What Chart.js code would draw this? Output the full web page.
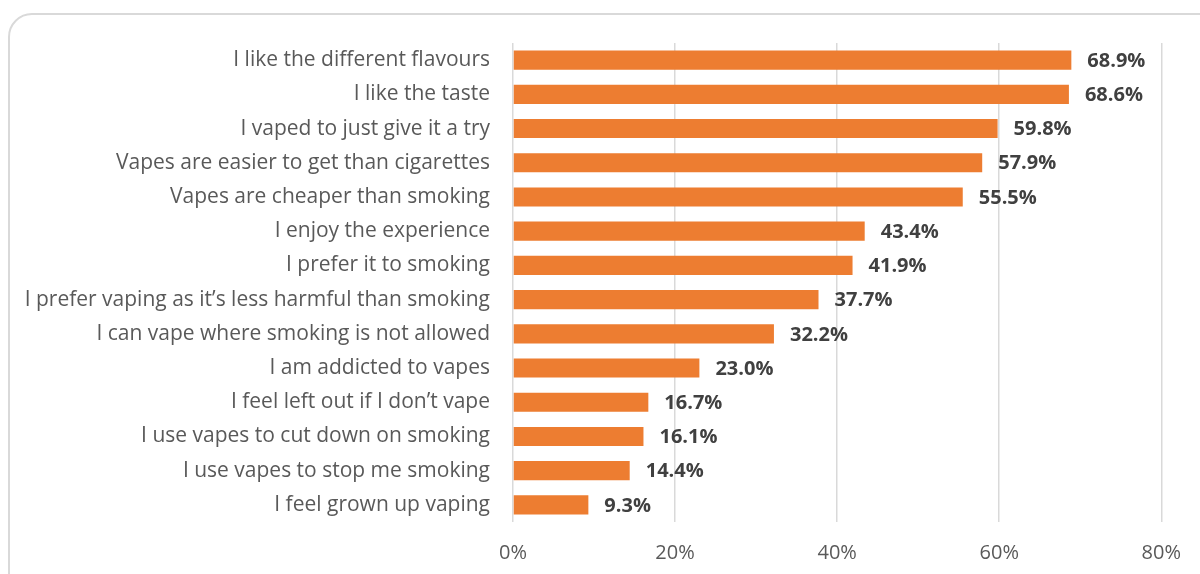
<!DOCTYPE html>
<html>
<head>
<meta charset="utf-8">
<script src="https://cdn.jsdelivr.net/npm/chart.js@4"></script>
<style>
  body { margin: 0; background: #fff; }
  #wrap { position: relative; width: 1200px; height: 574px; overflow: hidden; }
  #frame {
    position: absolute; left: 8px; top: 13px; width: 1220px; height: 600px;
    border: 2px solid #d9d9d9; border-radius: 24px; box-sizing: border-box;
  }
  canvas { position: absolute; left: 0; top: 0; }
</style>
</head>
<body>
<div id="wrap">
  <div id="frame"></div>
  <canvas id="barChart" width="1200" height="574"></canvas>
</div>
<script>
// reasons for vaping, top to bottom
const reasons = [
  "I like the different flavours",
  "I like the taste",
  "I vaped to just give it a try",
  "Vapes are easier to get than cigarettes",
  "Vapes are cheaper than smoking",
  "I enjoy the experience",
  "I prefer it to smoking",
  "I prefer vaping as it\u2019s less harmful than smoking",
  "I can vape where smoking is not allowed",
  "I am addicted to vapes",
  "I feel left out if I don\u2019t vape",
  "I use vapes to cut down on smoking",
  "I use vapes to stop me smoking",
  "I feel grown up vaping"
];
const percents = [68.9, 68.6, 59.8, 57.9, 55.5, 43.4, 41.9, 37.7, 32.2, 23.0, 16.7, 16.1, 14.4, 9.3];
const xTicks = [0, 20, 40, 60, 80];

const fontFamily = "'Open Sans', sans-serif";

// draws the value next to each bar
const valueLabels = {
  id: "valueLabels",
  afterDatasetsDraw(chart) {
    const ctx = chart.ctx;
    const meta = chart.getDatasetMeta(0);
    ctx.save();
    ctx.font = "bold 20px " + fontFamily;
    ctx.fillStyle = "#404040";
    ctx.textAlign = "left";
    ctx.textBaseline = "middle";
    meta.data.forEach((bar, i) => {
      ctx.fillText(percents[i].toFixed(1) + "%", bar.x + 16, bar.y + 1);
    });
    ctx.restore();
  }
};

const ctx = document.getElementById("barChart").getContext("2d");
new Chart(ctx, {
  type: "bar",
  data: {
    labels: reasons,
    datasets: [{
      data: percents,
      backgroundColor: "#ed7d31",
      borderColor: "#ed7d31",
      borderWidth: 0,
      barPercentage: 0.56,
      categoryPercentage: 1.0
    }]
  },
  options: {
    indexAxis: "y",
    responsive: false,
    animation: false,
    layout: { padding: { left: 0, right: 37, top: 43, bottom: 0 } },
    plugins: {
      legend: { display: false },
      tooltip: { enabled: false }
    },
    scales: {
      x: {
        min: 0,
        max: 80,
        afterBuildTicks(scale) {
          scale.ticks = xTicks.map(v => ({ value: v }));
        },
        afterFit(scale) { scale.height = 52; },
        grid: { color: "#d9d9d9", lineWidth: 1.5, drawTicks: false },
        border: { display: false },
        ticks: {
          color: "#595959",
          padding: 19,
          font: { family: fontFamily, size: 20 },
          callback: v => v + "%"
        }
      },
      y: {
        afterFit(scale) { scale.width = 513; },
        grid: { display: false, drawTicks: false },
        border: { display: false },
        ticks: {
          color: "#595959",
          padding: 23,
          autoSkip: false,
          font: { family: fontFamily, size: 21 }
        }
      }
    }
  },
  plugins: [valueLabels]
});
</script>
</body>
</html>
